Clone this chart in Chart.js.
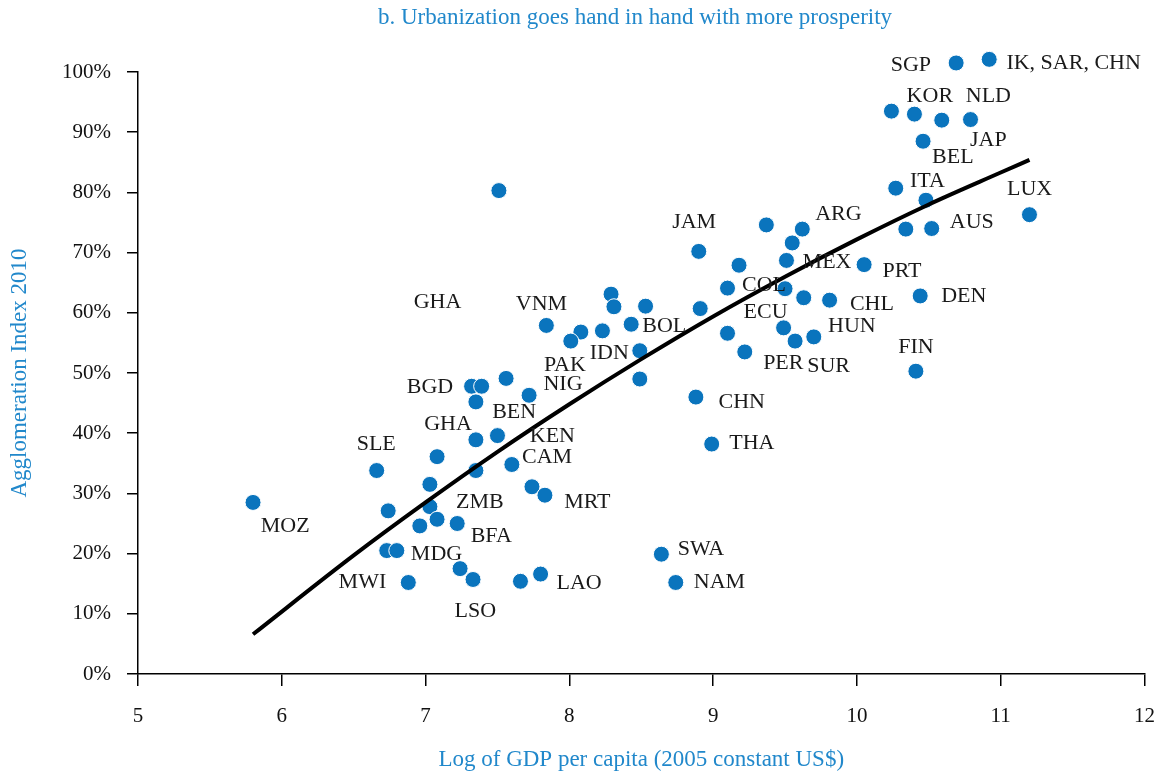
<!DOCTYPE html>
<html>
<head>
<meta charset="utf-8">
<script src="https://cdn.jsdelivr.net/npm/chart.js@4"></script>
<style>
  html, body { margin: 0; padding: 0; background: #fff; }
  #wrap { width: 1173px; height: 776px; }
</style>
</head>
<body>
<div id="wrap"><canvas id="myChart" width="1173" height="776"></canvas></div>
<script>
// log GDP per capita (x) and agglomeration index in % (y)
const gdpLog = [
  5.80, 6.66, 6.74, 7.03, 7.08, 7.35, 7.50, 7.35, 7.60, 7.03,
  7.08, 6.96, 7.22, 7.74, 7.83, 6.73, 6.80, 7.24, 6.88, 7.33,
  7.66, 7.80, 8.64, 8.74, 7.32, 7.39, 7.35, 7.56, 7.72, 7.51,
  7.84, 8.08, 8.01, 8.23, 8.43, 8.49, 8.49, 8.29, 8.31, 8.53,
  8.91, 8.88, 8.99, 8.90, 9.10, 9.10, 9.18, 9.22, 9.37, 9.62,
  9.55, 9.51, 9.50, 9.49, 9.57, 9.70, 9.63, 9.81, 10.05, 10.44,
  10.41, 10.34, 10.52, 10.48, 10.27, 11.20, 10.46, 10.24, 10.40, 10.59,
  10.79, 10.69, 10.92
];
const agglom = [
  28.5, 33.8, 27.1, 31.5, 36.1, 38.9, 39.6, 33.8, 34.8, 27.8,
  25.7, 24.6, 25.0, 31.1, 29.7, 20.5, 20.5, 17.5, 15.2, 15.7,
  15.4, 16.6, 19.9, 15.2, 47.8, 47.8, 45.2, 49.1, 46.3, 80.3,
  57.9, 56.8, 55.3, 57.0, 58.1, 53.7, 49.0, 63.1, 61.0, 61.1,
  60.7, 46.0, 38.2, 70.2, 64.1, 56.6, 67.9, 53.5, 74.6, 73.9,
  71.6, 68.7, 64.0, 57.5, 55.3, 56.0, 62.5, 62.1, 68.0, 62.8,
  50.3, 73.9, 74.0, 78.7, 80.7, 76.3, 88.5, 93.5, 93.0, 92.0,
  92.1, 101.5, 102.1
];

// fitted curve at a few x positions
const fitX = [5.8, 6.5, 7.0, 7.5, 8.0, 8.5, 9.0, 9.5, 10.0, 10.5, 11.0, 11.2];
const fitY = [6.6, 19.7, 28.5, 36.9, 44.8, 52.3, 59.4, 66.0, 72.2, 78.0, 83.3, 85.4];

// country labels (text + where it sits, in data units)
const labelText = ['SGP', 'IK, SAR, CHN', 'KOR', 'NLD', 'JAP', 'BEL', 'ITA', 'LUX', 'ARG', 'AUS',
  'JAM', 'MEX', 'PRT', 'COL', 'CHL', 'DEN', 'GHA', 'VNM', 'ECU', 'HUN',
  'BOL', 'FIN', 'IDN', 'PAK', 'PER', 'SUR', 'BGD', 'NIG', 'CHN', 'BEN',
  'GHA', 'KEN', 'THA', 'SLE', 'CAM', 'MRT', 'ZMB', 'MOZ', 'BFA', 'MDG',
  'SWA', 'MWI', 'LAO', 'NAM', 'LSO'];
const labelX = [10.375, 11.507, 10.507, 10.914, 10.914, 10.667, 10.49, 11.201, 9.871, 10.799,
  8.868, 9.792, 10.313, 9.354, 10.104, 10.743, 7.083, 7.806, 9.365, 9.965,
  8.66, 10.41, 8.278, 7.969, 9.488, 9.803, 7.031, 7.956, 9.199, 7.616,
  7.156, 7.882, 9.269, 6.657, 7.845, 8.125, 7.377, 6.024, 7.457, 7.076,
  8.915, 6.561, 8.068, 9.044, 7.346];
const labelY = [101.1, 101.5, 96.0, 96.0, 88.6, 85.8, 81.9, 80.6, 76.4, 75.1,
  75.1, 68.4, 66.9, 64.6, 61.4, 62.8, 61.8, 61.5, 60.1, 57.8,
  57.7, 54.2, 53.3, 51.3, 51.6, 51.1, 47.6, 48.1, 45.1, 43.5,
  41.5, 39.5, 38.3, 38.2, 36.0, 28.6, 28.5, 24.6, 22.9, 19.9,
  20.8, 15.2, 15.1, 15.2, 10.5];

const chartTitle = 'b. Urbanization goes hand in hand with more prosperity';

const FONT = '"Liberation Serif", "DejaVu Serif", serif';
const blue = '#0a74bd';
const textBlue = '#2188cb';

// title, country codes, and the dots that sit above the 100% line
const extras = {
  id: 'extras',
  afterDatasetsDraw(chart) {
    const ctx = chart.ctx;
    const xs = chart.scales.x, ys = chart.scales.y;

    // points above the top of the axis are skipped by the default draw
    const meta = chart.getDatasetMeta(1);
    const whole = { left: 0, top: 0, right: chart.width, bottom: chart.height };
    meta.data.forEach((pt, i) => {
      if (agglom[i] > 100) pt.draw(ctx, whole);
    });

    ctx.save();
    ctx.font = '22px ' + FONT;
    ctx.fillStyle = '#1a1a1a';
    ctx.textAlign = 'center';
    ctx.textBaseline = 'middle';
    labelText.forEach((t, i) => {
      ctx.fillText(t, xs.getPixelForValue(labelX[i]), ys.getPixelForValue(labelY[i]));
    });

    ctx.font = '23px ' + FONT;
    ctx.fillStyle = textBlue;
    ctx.fillText(chartTitle, 635, 18);
    ctx.restore();
  }
};

new Chart(document.getElementById('myChart'), {
  type: 'scatter',
  data: {
    datasets: [
      {
        label: 'fit',
        type: 'line',
        data: fitX.map((x, i) => ({ x: x, y: fitY[i] })),
        borderColor: '#000',
        borderWidth: 4,
        pointRadius: 0,
        tension: 0.4,
        cubicInterpolationMode: 'monotone',
        fill: false,
        order: 1
      },
      {
        label: 'countries',
        data: gdpLog.map((x, i) => ({ x: x, y: agglom[i] })),
        backgroundColor: blue,
        borderColor: '#fff',
        borderWidth: 1,
        pointRadius: 8,
        clip: false,
        order: 2
      }
    ]
  },
  options: {
    responsive: false,
    animation: false,
    events: [],
    layout: { padding: { left: 0, right: 27, top: 72, bottom: 0 } },
    plugins: {
      legend: { display: false },
      tooltip: { enabled: false },
      title: { display: false }
    },
    scales: {
      x: {
        type: 'linear',
        min: 5,
        max: 12,
        afterFit: s => { s.height = 102; },
        ticks: { stepSize: 1, color: '#111', font: { family: FONT, size: 21 }, padding: 18 },
        grid: { drawOnChartArea: false, drawTicks: true, tickLength: 12, color: '#000', lineWidth: 1.5 },
        border: { display: true, color: '#000', width: 1.5 },
        title: {
          display: true,
          text: 'Log of GDP per capita (2005 constant US$)',
          color: textBlue,
          font: { family: FONT, size: 23 },
          padding: { top: 4, bottom: 2 }
        }
      },
      y: {
        min: 0,
        max: 100,
        afterFit: s => { s.width = 138; },
        ticks: {
          stepSize: 10,
          color: '#111',
          font: { family: FONT, size: 21 },
          padding: 16,
          callback: v => v + '%'
        },
        grid: { drawOnChartArea: false, drawTicks: true, tickLength: 11, color: '#000', lineWidth: 1.5 },
        border: { display: true, color: '#000', width: 1.5 },
        title: {
          display: true,
          text: 'Agglomeration Index 2010',
          color: textBlue,
          font: { family: FONT, size: 23 },
          padding: { top: 6, bottom: 4 }
        }
      }
    }
  },
  plugins: [extras]
});
</script>
</body>
</html>
